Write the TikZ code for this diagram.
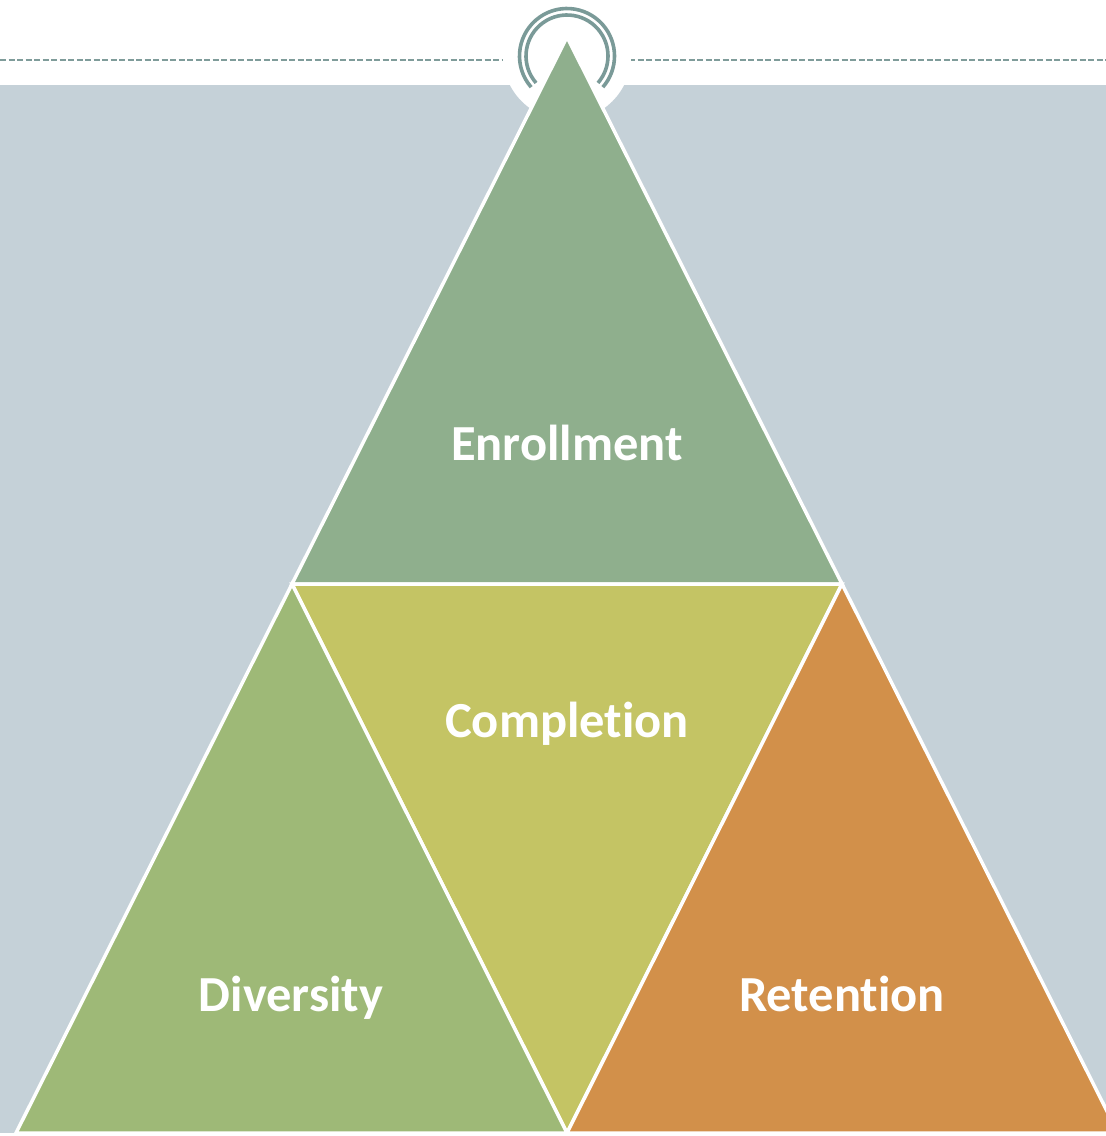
\documentclass[tikz,border=0pt]{standalone}
\usepackage{fontspec}
\setmainfont[Ligatures={NoCommon,NoRequired,NoContextual}]{Carlito}
\definecolor{band}{HTML}{C5D1D8}
\definecolor{ringc}{HTML}{7A9A98}
\definecolor{dashc}{HTML}{7F9C9A}
\definecolor{enr}{HTML}{8FAF8D}
\definecolor{comp}{HTML}{C4C464}
\definecolor{divc}{HTML}{9EB977}
\definecolor{ret}{HTML}{D2904A}
\begin{document}
\begin{tikzpicture}[x=1pt,y=-1pt,
  tri/.style={draw=white,line width=3.5pt,line join=miter},
  lbl/.style={text=white,font=\fontsize{50.5}{60}\selectfont\bfseries,anchor=base,inner sep=0pt},
  dashline/.style={draw=dashc,line width=2.2pt,dash pattern=on 6pt off 2.5pt},
  ring/.style={draw=ringc,line width=3.6pt}]
\useasboundingbox (0,0) rectangle (1106,1136);
\fill[white] (0,0) rectangle (1106,1136);
\fill[band] (0,85) rectangle (1106,1133);
\coordinate (c) at (567,56);
\draw[dashline] (0,60) -- (1106,60);
\fill[white] (c) circle[radius=64];
\draw[ring] ([shift={(139:47.5)}]c) arc[start angle=139,end angle=401,radius=47.5];
\draw[ring] ([shift={(139:41)}]c) arc[start angle=139,end angle=401,radius=41];
\coordinate (A) at (567,37);
\coordinate (L) at (292,584);
\coordinate (R) at (842,584);
\coordinate (BL) at (16,1133);
\coordinate (BM) at (567,1133);
\coordinate (BR) at (1118,1133);
\fill[enr,tri] (A) -- (L) -- (R) -- cycle;
\fill[comp,tri] (L) -- (R) -- (BM) -- cycle;
\fill[divc,tri] (L) -- (BL) -- (BM) -- cycle;
\fill[ret,tri] (R) -- (BM) -- (BR) -- cycle;
\node[lbl] (tenr) at (567,460) {Enrollment};
\node[lbl] (tcomp) at (567,737) {Completion};
\node[lbl] (tdiv) at (291,1011) {Diversity};
\node[lbl] (tret) at (842,1011) {Retention};
\end{tikzpicture}
\end{document}
